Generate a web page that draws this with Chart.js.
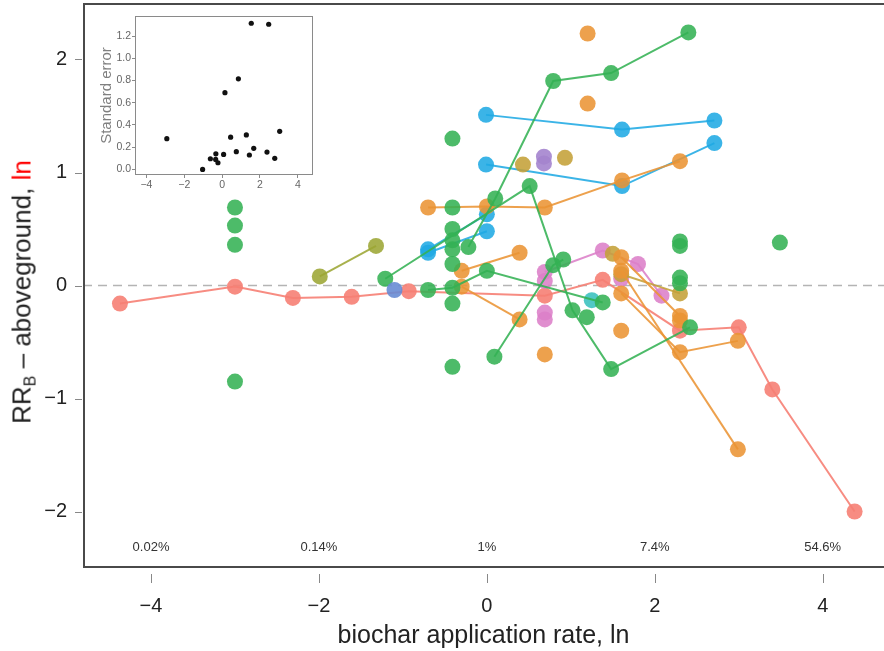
<!DOCTYPE html>
<html>
<head>
<meta charset="utf-8">
<script src="https://cdn.jsdelivr.net/npm/chart.js@4.4.1/dist/chart.umd.min.js"></script>
<style>
  html, body { margin: 0; padding: 0; background: #fff; }
  #wrap { position: relative; width: 884px; height: 651px; overflow: hidden; }
  #main { position: absolute; left: 0; top: 0; }
  #inset { position: absolute; left: 95px; top: 8px; }
  #ytitle {
    position: absolute; left: 23px; top: 292px;
    transform: translate(-50%, -50%) rotate(-90deg);
    white-space: nowrap; font: 26px "Liberation Sans", Arial, sans-serif; color: #222;
  }
  #ytitle sub { font-size: 16px; vertical-align: -5px; }
  #ytitle .red { color: #f00; }
</style>
</head>
<body>
<div id="wrap">
  <canvas id="main" width="884" height="651"></canvas>
  <canvas id="inset" width="230" height="185"></canvas>
  <div id="ytitle">RR<sub>B</sub> &#8211; aboveground, <span class="red">ln</span></div>
</div>
<script>
// axis ticks and in-plot percent labels
const xTicks = [-4, -2, 0, 2, 4];
const yTicks = [-2, -1, 0, 1, 2];
const pctLabels = ["0.02%", "0.14%", "1%", "7.4%", "54.6%"];

// main panel series (ln rate, ln response ratio)
const salmonLineX = [-4.37, -3.00, -2.31, -1.61, -0.93, 0.69, 1.38, 2.30, 3.00, 3.40, 4.38];
const salmonLineY = [-0.16, -0.01, -0.11, -0.10, -0.05, -0.09, 0.05, -0.40, -0.37, -0.92, -2.00];

const greenDotsX = [-3, -3, -3, -3, -0.41, -0.41, -0.41, -0.41, -0.41, -0.41, -0.41, -0.41, 1.19, 2.30, 2.30, 2.30, 2.30, 3.49];
const greenDotsY = [0.69, 0.53, 0.36, -0.85, 1.30, 0.69, 0.50, 0.40, 0.32, 0.19, -0.16, -0.72, -0.28, 0.39, 0.35, 0.07, 0.02, 0.38];

const greenLine1X = [-1.21, 0.51, 1.02, 1.48, 2.42];
const greenLine1Y = [0.06, 0.88, -0.22, -0.74, -0.37];
const greenLine2X = [-0.22, 0.10, 0.79, 1.48, 2.40];
const greenLine2Y = [0.34, 0.77, 1.81, 1.88, 2.24];
const greenLine3X = [0.09, 0.79, 0.91];
const greenLine3Y = [-0.63, 0.18, 0.23];
const greenLine4X = [-0.70, -0.41, 0.00, 1.38];
const greenLine4Y = [-0.04, -0.02, 0.13, -0.15];

const oliveLineX = [-1.99, -1.32];
const oliveLineY = [0.08, 0.35];
const steelDotX = [-1.10];
const steelDotY = [-0.04];
const tealDotX = [1.25];
const tealDotY = [-0.13];

const blueLine1X = [-0.01, 1.61, 2.71];
const blueLine1Y = [1.51, 1.38, 1.46];
const blueLine2X = [-0.01, 1.61, 2.71];
const blueLine2Y = [1.07, 0.88, 1.26];
const blueLine3X = [-0.70, 0.00];
const blueLine3Y = [0.32, 0.63];
const blueLine4X = [-0.70, 0.00];
const blueLine4Y = [0.29, 0.48];

const orangeDotsX = [1.20, 1.20, 0.69, 1.60, 2.30];
const orangeDotsY = [2.23, 1.61, -0.61, -0.40, -0.31];
const orangeLine1X = [-0.30, 0.39];
const orangeLine1Y = [0.13, 0.29];
const orangeLine2X = [-0.30, 0.39];
const orangeLine2Y = [-0.01, -0.30];
const orangeLine3X = [-0.70, 0.00, 0.69, 1.61, 2.30];
const orangeLine3Y = [0.69, 0.70, 0.69, 0.93, 1.10];
const orangeLine4X = [1.60, 2.30, 2.99];
const orangeLine4Y = [-0.07, -0.59, -0.49];
const orangeLine5X = [1.60, 2.99];
const orangeLine5Y = [0.13, -1.45];
const orangeLine6X = [1.60, 2.30];
const orangeLine6Y = [0.25, -0.27];

const mustardDotsX = [0.43, 0.93, 1.50];
const mustardDotsY = [1.07, 1.13, 0.28];
const mustardLineX = [1.60, 2.30];
const mustardLineY = [0.10, -0.07];

const purpleDotsX = [0.68, 0.68];
const purpleDotsY = [1.14, 1.08];
const pinkLineX = [0.69, 1.38, 1.80, 2.08];
const pinkLineY = [0.12, 0.31, 0.19, -0.09];
const pinkDotsX = [0.69, 0.69, 0.69, 1.60];
const pinkDotsY = [0.04, -0.24, -0.30, 0.06];

// inset: standard error vs rate
const insetX = [1.54, 2.46, 0.86, 0.15, -2.92, 3.04, 0.45, 1.28, 1.67, 0.75, 1.44, 2.37, 2.78, 0.08, -0.33, -0.62, -0.34, -0.22, -1.03];
const insetY = [1.315, 1.306, 0.815, 0.69, 0.277, 0.343, 0.29, 0.31, 0.19, 0.16, 0.13, 0.156, 0.10, 0.135, 0.14, 0.096, 0.09, 0.06, 0.0];
const insetXTicks = [-4, -2, 0, 2, 4];
const insetYTicks = [0, 0.2, 0.4, 0.6, 0.8, 1.0, 1.2];

Chart.defaults.font.family = '"Liberation Sans", Arial, sans-serif';

const minus = (v) => String(v).replace("-", "\u2212");

function series(xs, ys, color, line) {
  return {
    data: xs.map((v, i) => ({ x: v, y: ys[i] })),
    showLine: line,
    borderColor: color,
    backgroundColor: color,
    pointBackgroundColor: color,
    pointBorderWidth: 0,
    pointRadius: 8,
    pointHoverRadius: 8,
    borderWidth: 2,
  };
}

const salmon = "rgba(246,128,116,0.9)";
const green = "rgba(52,178,84,0.88)";
const blue = "rgba(32,170,228,0.88)";
const orange = "rgba(234,148,52,0.88)";
const olive = "rgba(156,166,52,0.88)";
const mustard = "rgba(196,160,56,0.88)";
const purple = "rgba(164,132,206,0.9)";
const pink = "rgba(220,128,200,0.88)";
const teal = "rgba(56,192,190,0.88)";
const steel = "rgba(104,140,212,0.9)";

// frame, zero line, tick marks and the percent row
const decorations = {
  id: "decorations",
  beforeDatasetsDraw(chart) {
    const { ctx, chartArea: a, scales: { x, y } } = chart;
    ctx.save();
    ctx.strokeStyle = "#b4b4b4";
    ctx.lineWidth = 1.6;
    ctx.setLineDash([9, 6]);
    const y0 = y.getPixelForValue(0);
    ctx.beginPath();
    ctx.moveTo(a.left, y0);
    ctx.lineTo(a.right, y0);
    ctx.stroke();
    ctx.setLineDash([]);
    ctx.fillStyle = "#333";
    ctx.font = '13px "Liberation Sans", Arial, sans-serif';
    ctx.textAlign = "center";
    ctx.textBaseline = "middle";
    const yp = y.getPixelForValue(-2.32);
    xTicks.forEach((v, i) => ctx.fillText(pctLabels[i], x.getPixelForValue(v), yp));
    ctx.restore();
  },
  afterDraw(chart) {
    const { ctx, chartArea: a, scales: { x, y } } = chart;
    ctx.save();
    ctx.strokeStyle = "#4a4a4a";
    ctx.lineWidth = 2;
    ctx.beginPath();
    ctx.moveTo(a.right, a.top + 1);
    ctx.lineTo(a.left + 1, a.top + 1);
    ctx.lineTo(a.left + 1, a.bottom - 1);
    ctx.lineTo(a.right, a.bottom - 1);
    ctx.stroke();
    ctx.strokeStyle = "#888";
    ctx.lineWidth = 1;
    ctx.beginPath();
    xTicks.forEach((v) => {
      const px = Math.round(x.getPixelForValue(v)) + 0.5;
      ctx.moveTo(px, a.bottom + 6);
      ctx.lineTo(px, a.bottom + 15);
    });
    yTicks.forEach((v) => {
      const py = Math.round(y.getPixelForValue(v)) + 0.5;
      ctx.moveTo(a.left - 8, py);
      ctx.lineTo(a.left - 1, py);
    });
    ctx.stroke();
    ctx.restore();
  },
};

new Chart(document.getElementById("main"), {
  type: "scatter",
  data: {
    datasets: [
      series(greenDotsX, greenDotsY, green, false),
      series(oliveLineX, oliveLineY, olive, true),
      series(steelDotX, steelDotY, steel, false),
      series(greenLine4X, greenLine4Y, green, true),
      series(greenLine1X, greenLine1Y, green, true),
      series(greenLine2X, greenLine2Y, green, true),
      series(greenLine3X, greenLine3Y, green, true),
      series(tealDotX, tealDotY, teal, false),
      series(orangeDotsX, orangeDotsY, orange, false),
      series(orangeLine1X, orangeLine1Y, orange, true),
      series(orangeLine2X, orangeLine2Y, orange, true),
      series(orangeLine3X, orangeLine3Y, orange, true),
      series(orangeLine4X, orangeLine4Y, orange, true),
      series(orangeLine5X, orangeLine5Y, orange, true),
      series(orangeLine6X, orangeLine6Y, orange, true),
      series(mustardDotsX, mustardDotsY, mustard, false),
      series(mustardLineX, mustardLineY, mustard, true),
      series(purpleDotsX, purpleDotsY, purple, false),
      series(pinkDotsX, pinkDotsY, pink, false),
      series(pinkLineX, pinkLineY, pink, true),
      series(blueLine1X, blueLine1Y, blue, true),
      series(blueLine2X, blueLine2Y, blue, true),
      series(blueLine3X, blueLine3Y, blue, true),
      series(blueLine4X, blueLine4Y, blue, true),
      series(salmonLineX, salmonLineY, salmon, true),
    ],
  },
  options: {
    responsive: false,
    animation: false,
    layout: { autoPadding: false, padding: { top: 3, right: 0, left: 0, bottom: 0 } },
    plugins: { legend: { display: false }, tooltip: { enabled: false } },
    scales: {
      x: {
        min: -4.81,
        max: 4.73,
        afterBuildTicks: (s) => { s.ticks = xTicks.map((v) => ({ value: v })); },
        afterFit: (s) => { s.height = 83; s.paddingLeft = 0; s.paddingRight = 0; },
        grid: { display: false },
        border: { display: false },
        ticks: { font: { size: 20 }, color: "#222", padding: 18, callback: minus },
        title: {
          display: true,
          text: "biochar application rate, ln",
          font: { size: 25 },
          color: "#222",
          padding: { top: 0, bottom: 0 },
        },
      },
      y: {
        min: -2.5,
        max: 2.5,
        afterBuildTicks: (s) => { s.ticks = yTicks.map((v) => ({ value: v })); },
        afterFit: (s) => { s.width = 83; s.paddingTop = 0; s.paddingBottom = 0; },
        grid: { display: false },
        border: { display: false },
        ticks: { font: { size: 20 }, color: "#222", padding: 8, callback: minus },
      },
    },
  },
  plugins: [decorations],
});

// inset frame
const insetFrame = {
  id: "insetFrame",
  afterDraw(chart) {
    const { ctx, chartArea: a } = chart;
    ctx.save();
    ctx.strokeStyle = "#8a8a8a";
    ctx.lineWidth = 1;
    ctx.strokeRect(a.left + 0.5, a.top + 0.5, a.right - a.left - 1, a.bottom - a.top - 1);
    ctx.restore();
  },
};

new Chart(document.getElementById("inset"), {
  type: "scatter",
  data: {
    datasets: [{
      data: insetX.map((v, i) => ({ x: v, y: insetY[i] })),
      pointRadius: 2.6,
      pointBorderWidth: 0,
      backgroundColor: "#111",
    }],
  },
  options: {
    responsive: false,
    animation: false,
    layout: { autoPadding: false, padding: { top: 8, right: 12, left: 0, bottom: 0 } },
    plugins: { legend: { display: false }, tooltip: { enabled: false } },
    scales: {
      x: {
        min: -4.6,
        max: 4.8,
        afterBuildTicks: (s) => { s.ticks = insetXTicks.map((v) => ({ value: v })); },
        afterFit: (s) => { s.height = 18; s.paddingLeft = 0; s.paddingRight = 0; },
        grid: { drawOnChartArea: false, drawTicks: true, tickLength: 3, color: "#8a8a8a" },
        border: { display: false },
        ticks: { font: { size: 10.5 }, color: "#666", padding: 1, callback: minus },
      },
      y: {
        min: -0.05,
        max: 1.38,
        afterBuildTicks: (s) => { s.ticks = insetYTicks.map((v) => ({ value: v })); },
        afterFit: (s) => { s.width = 40; s.paddingTop = 0; s.paddingBottom = 0; },
        grid: { drawOnChartArea: false, drawTicks: true, tickLength: 3, color: "#8a8a8a" },
        border: { display: false },
        ticks: { font: { size: 10.5 }, color: "#666", padding: 1, callback: (v) => v.toFixed(1) },
        title: {
          display: true,
          text: "Standard error",
          font: { size: 15 },
          color: "#808080",
          padding: { top: 3, bottom: 0 },
        },
      },
    },
  },
  plugins: [insetFrame],
});
</script>
</body>
</html>
